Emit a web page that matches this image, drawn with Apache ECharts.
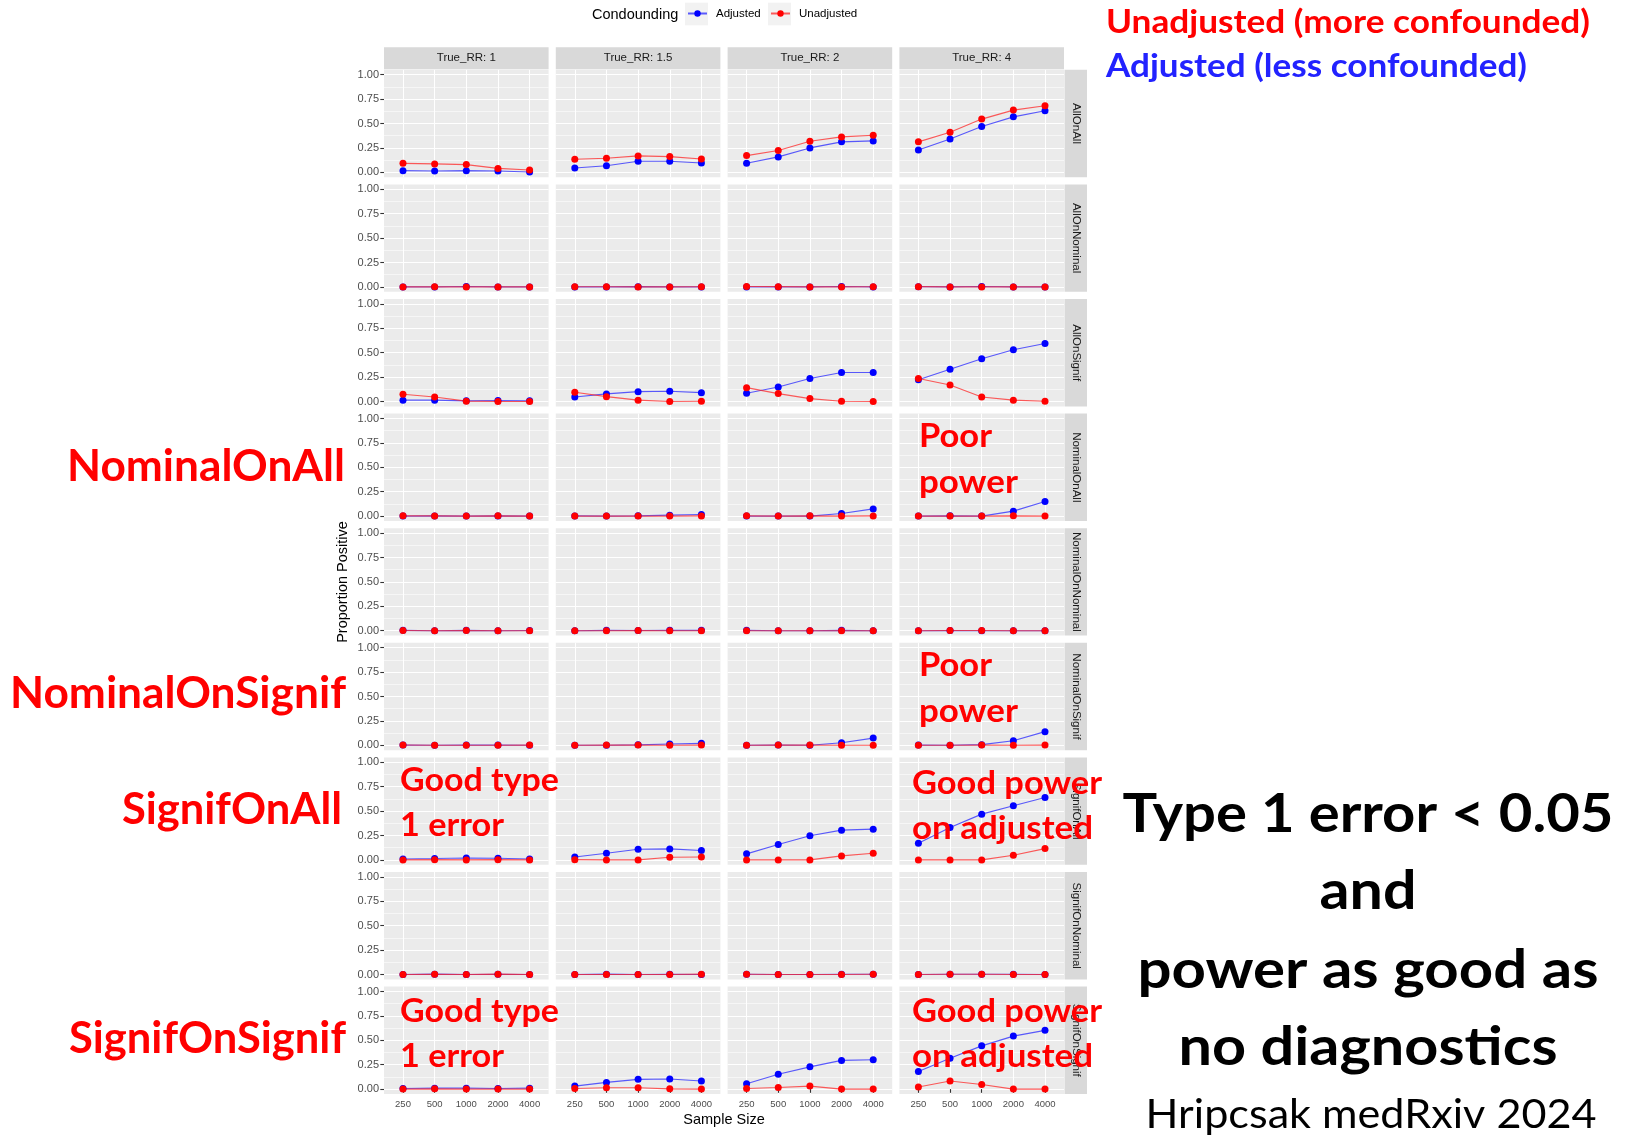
<!DOCTYPE html>
<html>
<head>
<meta charset="utf-8">
<script src="https://cdn.jsdelivr.net/npm/echarts@6/dist/echarts.min.js"></script>
<style>
  html, body { margin: 0; padding: 0; background: #ffffff; }
  #chart { width: 1633px; height: 1137px; }
</style>
</head>
<body>
<div id="chart"></div>
<script>
// ---- data -----------------------------------------------------------------
const sampleSizes = ['250', '500', '1000', '2000', '4000'];
const trueRR = ['1', '1.5', '2', '4'];
const methods = ['AllOnAll', 'AllOnNominal', 'AllOnSignif', 'NominalOnAll', 'NominalOnNominal',
                 'NominalOnSignif', 'SignifOnAll', 'SignifOnNominal', 'SignifOnSignif'];

// proportion positive, one inner list per True_RR (1, 1.5, 2, 4), values by sample size
const adjAllOnAll   = [[0.017, 0.014, 0.017, 0.014, 0.003], [0.045, 0.068, 0.113, 0.113, 0.096],
                       [0.092, 0.158, 0.250, 0.312, 0.322], [0.229, 0.342, 0.469, 0.568, 0.630]];
const unadjAllOnAll = [[0.092, 0.086, 0.079, 0.040, 0.024], [0.134, 0.144, 0.168, 0.161, 0.137],
                       [0.171, 0.223, 0.318, 0.363, 0.380], [0.312, 0.411, 0.545, 0.637, 0.681]];

const adjAllOnNominal   = [[0, 0, 0.004, 0, 0], [0, 0, 0.003, 0, 0], [0, 0, 0, 0.004, 0], [0.003, 0, 0.004, 0, 0]];
const unadjAllOnNominal = [[0, 0.002, 0, 0, 0], [0.002, 0.002, 0, 0, 0.002], [0.004, 0.003, 0, 0, 0.002], [0.003, 0, 0, 0, 0]];

const adjAllOnSignif   = [[0.014, 0.014, 0.007, 0.010, 0.007], [0.047, 0.078, 0.101, 0.105, 0.091],
                          [0.084, 0.149, 0.236, 0.297, 0.297], [0.223, 0.331, 0.439, 0.530, 0.595]];
const unadjAllOnSignif = [[0.074, 0.047, 0.004, 0, 0], [0.095, 0.050, 0.014, 0, 0.003],
                          [0.142, 0.081, 0.030, 0.003, 0], [0.236, 0.169, 0.047, 0.014, 0.003]];

const adjNominalOnAll   = [[0, 0.002, 0, 0.002, 0], [0.002, 0, 0.003, 0.010, 0.017],
                           [0, 0, 0, 0.027, 0.074], [0, 0.003, 0, 0.051, 0.149]];
const unadjNominalOnAll = [[0.003, 0.002, 0, 0.003, 0], [0, 0, 0, 0, 0.002], [0.003, 0, 0.003, 0, 0.002], [0, 0, 0, 0.003, 0]];

const adjNominalOnNominal   = [[0.004, 0, 0.004, 0, 0.003], [0, 0.004, 0.003, 0.004, 0.004], [0.004, 0, 0, 0.004, 0], [0, 0.002, 0, 0, 0]];
const unadjNominalOnNominal = [[0.003, 0, 0.003, 0, 0], [0, 0, 0.003, 0, 0], [0, 0, 0, 0, 0], [0, 0.003, 0.003, 0, 0]];

const adjNominalOnSignif   = [[0.002, 0, 0.004, 0.002, 0], [0, 0, 0.005, 0.013, 0.020],
                              [0, 0.002, 0, 0.027, 0.074], [0.002, 0, 0.007, 0.047, 0.140]];
const unadjNominalOnSignif = [[0.003, 0, 0, 0, 0.002], [0, 0.002, 0.002, 0, 0.002], [0, 0.002, 0.003, 0, 0], [0, 0, 0.002, 0, 0.002]];

const adjSignifOnAll   = [[0.010, 0.014, 0.020, 0.017, 0.010], [0.030, 0.068, 0.110, 0.113, 0.096],
                          [0.062, 0.158, 0.247, 0.305, 0.315], [0.171, 0.332, 0.469, 0.555, 0.640]];
const unadjSignifOnAll = [[0, 0.003, 0, 0.003, 0], [0.003, 0, 0, 0.027, 0.030],
                          [0, 0, 0, 0.041, 0.068], [0, 0, 0, 0.048, 0.116]];

const adjSignifOnNominal   = [[0, 0.004, 0, 0.003, 0], [0, 0.004, 0, 0.003, 0], [0.003, 0, 0, 0.003, 0.003], [0, 0.002, 0.002, 0.002, 0]];
const unadjSignifOnNominal = [[0, 0.002, 0, 0.004, 0], [0, 0, 0, 0, 0.004], [0.002, 0, 0, 0, 0.003], [0, 0.002, 0.002, 0, 0]];

const adjSignifOnSignif   = [[0.007, 0.010, 0.010, 0.007, 0.010], [0.031, 0.069, 0.100, 0.104, 0.083],
                             [0.055, 0.152, 0.228, 0.294, 0.301], [0.180, 0.315, 0.443, 0.543, 0.602]];
const unadjSignifOnSignif = [[0, 0.003, 0, 0, 0], [0.007, 0.014, 0.014, 0.003, 0],
                             [0.007, 0.017, 0.031, 0, 0], [0.021, 0.083, 0.048, 0, 0]];

const adjustedByMethod = [adjAllOnAll, adjAllOnNominal, adjAllOnSignif, adjNominalOnAll, adjNominalOnNominal,
                          adjNominalOnSignif, adjSignifOnAll, adjSignifOnNominal, adjSignifOnSignif];
const unadjustedByMethod = [unadjAllOnAll, unadjAllOnNominal, unadjAllOnSignif, unadjNominalOnAll, unadjNominalOnNominal,
                            unadjNominalOnSignif, unadjSignifOnAll, unadjSignifOnNominal, unadjSignifOnSignif];

const yTicks = [0, 0.25, 0.5, 0.75, 1];
const yMinorTicks = [0.125, 0.375, 0.625, 0.875];

// ---- layout ---------------------------------------------------------------
const panel = { left: 384, top: 69.8, w: 164.6, h: 107.4, dx: 171.8, dy: 114.6 };
const stripH = 22;
const stripW = 22.5;
const BASE = "'Liberation Sans', Arial, sans-serif";
const BIG = "Lato, 'Open Sans', sans-serif";

const grids = [], xAxes = [], yAxes = [], series = [], graphics = [];

methods.forEach((m, r) => {
  trueRR.forEach((rr, c) => {
    const gi = r * 4 + c;
    const gx = panel.left + c * panel.dx;
    const gy = panel.top + r * panel.dy;
    grids.push({ left: gx, top: gy, width: panel.w, height: panel.h, show: true,
                 backgroundColor: '#EBEBEB', borderWidth: 0, containLabel: false });
    xAxes.push({
      gridIndex: gi, type: 'value', min: 0.4, max: 5.6,
      axisLine: { show: false },
      axisTick: { show: r === methods.length - 1, customValues: [1, 2, 3, 4, 5], length: 3.7,
                  lineStyle: { color: '#333333', width: 1.1 } },
      axisLabel: { show: r === methods.length - 1, customValues: [1, 2, 3, 4, 5],
                   formatter: v => sampleSizes[Math.round(v) - 1], fontSize: 9.5, color: '#4D4D4D',
                   fontFamily: BASE, margin: 5 },
      splitLine: { show: true, lineStyle: { color: '#FFFFFF', width: 1.1 } }
    });
    yAxes.push({
      gridIndex: gi, type: 'value', min: -0.05, max: 1.05, position: 'left',
      axisLine: { show: false },
      axisTick: { show: c === 0, customValues: yTicks, length: 3.7, lineStyle: { color: '#333333', width: 1.1 } },
      axisLabel: { show: c === 0, customValues: yTicks, formatter: v => v.toFixed(2), fontSize: 11,
                   color: '#4D4D4D', fontFamily: BASE, margin: 5 },
      splitLine: { show: true, lineStyle: { color: '#FFFFFF', width: 1.1 } }
    });
    yAxes.push({
      gridIndex: gi, type: 'value', min: -0.05, max: 1.05, position: 'right',
      axisLine: { show: false },
      axisTick: { show: false, customValues: yMinorTicks },
      axisLabel: { show: false, customValues: yMinorTicks },
      splitLine: { show: true, lineStyle: { color: '#FFFFFF', width: 0.55 } }
    });
    const mk = (name, vals, pt, ln) => ({
      name, type: 'line', xAxisIndex: gi, yAxisIndex: gi * 2,
      data: vals.map((v, k) => [k + 1, v]),
      symbol: 'circle', symbolSize: 7, showSymbol: true,
      itemStyle: { color: pt }, lineStyle: { color: ln, width: 1.1 },
      emphasis: { disabled: true }, silent: true, animation: false, z: 3
    });
    series.push(mk('Adjusted', adjustedByMethod[r][c], '#0000FF', 'rgba(30,30,255,0.72)'));
    series.push(mk('Unadjusted', unadjustedByMethod[r][c], '#FF0000', 'rgba(255,30,30,0.72)'));

    // facet strips
    if (r === 0) {
      graphics.push({ type: 'rect', shape: { x: gx, y: panel.top - stripH - 0.5, width: panel.w, height: stripH },
                      style: { fill: '#D9D9D9' }, z: 1 });
      graphics.push({ type: 'text', x: gx + panel.w / 2, y: panel.top - stripH / 2 - 0.5,
                      style: { text: 'True_RR: ' + rr, fontSize: 11.5, fontFamily: BASE, fill: '#1A1A1A',
                               align: 'center', verticalAlign: 'middle' }, z: 2 });
    }
    if (c === trueRR.length - 1) {
      const sx = gx + panel.w + 0.5;
      graphics.push({ type: 'rect', shape: { x: sx, y: gy, width: stripW, height: panel.h },
                      style: { fill: '#D9D9D9' }, z: 1 });
      graphics.push({ type: 'text', x: sx + stripW / 2, y: gy + panel.h / 2, rotation: -Math.PI / 2,
                      style: { text: m, fontSize: 11.5, fontFamily: BASE, fill: '#1A1A1A',
                               align: 'center', verticalAlign: 'middle' }, z: 2 });
    }
  });
});

// axis titles and legend title
graphics.push({ type: 'text', x: 343, y: 582, rotation: Math.PI / 2,
                style: { text: 'Proportion Positive', fontSize: 14.5, fontFamily: BASE, fill: '#000000',
                         align: 'center', verticalAlign: 'middle' } });
graphics.push({ type: 'text', x: panel.left + (3 * panel.dx + panel.w) / 2, y: 1120,
                style: { text: 'Sample Size', fontSize: 14.5, fontFamily: BASE, fill: '#000000',
                         align: 'center', verticalAlign: 'middle' } });
graphics.push({ type: 'text', x: 592, y: 14.5,
                style: { text: 'Condounding', fontSize: 14.5, fontFamily: BASE, fill: '#000000',
                         align: 'left', verticalAlign: 'middle' } });
[685, 768].forEach(x => graphics.push({ type: 'rect', shape: { x: x, y: 2.7, width: 23, height: 22.6 },
                                         style: { fill: '#F2F2F2' }, z: 0 }));

// overlaid notes, each line squeezed to its width
const measureCtx = document.createElement('canvas').getContext('2d');
function note(text, x, y, width, size, color, align, weight) {
  const w = weight || 'bold';
  measureCtx.font = w + ' ' + size + 'px Lato';
  const natural = measureCtx.measureText(text).width;
  graphics.push({ type: 'text', x: x, y: y, scaleX: width / natural, z: 50,
                  style: { text: text, fontSize: size, fontWeight: w, fontFamily: BIG, fill: color,
                           align: align, verticalAlign: 'middle' } });
}
const RED = '#FF0000', BLUE = '#2222FF', BLACK = '#000000';
note('Unadjusted (more confounded)', 1106, 22, 484, 33, RED, 'left');
note('Adjusted (less confounded)', 1106, 66, 421, 33, BLUE, 'left');
note('NominalOnAll', 345, 467, 278, 43, RED, 'right');
note('NominalOnSignif', 346, 694, 336, 43, RED, 'right');
note('SignifOnAll', 342, 810, 220, 43, RED, 'right');
note('SignifOnSignif', 346, 1039, 277, 43, RED, 'right');
note('Poor', 919, 436, 73, 33, RED, 'left');
note('power', 919, 482, 99, 33, RED, 'left');
note('Poor', 919, 665, 73, 33, RED, 'left');
note('power', 919, 711, 99, 33, RED, 'left');
note('Good type', 400, 780, 159, 33, RED, 'left');
note('1 error', 400, 825, 104, 33, RED, 'left');
note('Good power', 912, 783, 190, 33, RED, 'left');
note('on adjusted', 912, 828, 181, 33, RED, 'left');
note('Good type', 400, 1011, 159, 33, RED, 'left');
note('1 error', 400, 1056, 104, 33, RED, 'left');
note('Good power', 912, 1011, 190, 33, RED, 'left');
note('on adjusted', 912, 1056, 181, 33, RED, 'left');
note('Type 1 error < 0.05', 1368, 815, 491, 53, BLACK, 'center');
note('and', 1368, 892, 97, 53, BLACK, 'center');
note('power as good as', 1368, 971, 461, 53, BLACK, 'center');
note('no diagnostics', 1368, 1048, 379, 53, BLACK, 'center');
note('Hripcsak medRxiv 2024', 1371, 1115, 451, 41, BLACK, 'center', 'normal');

const legendCommon = {
  top: 7.5, padding: 0, itemWidth: 19, itemHeight: 8, itemGap: 0, selectedMode: false,
  textStyle: { fontSize: 11.5, fontFamily: BASE, color: '#000000', padding: [0, 0, 0, 4] }
};

const chart = echarts.init(document.getElementById('chart'), null, { renderer: 'canvas' });
chart.setOption({
  backgroundColor: '#FFFFFF',
  animation: false,
  legend: [
    Object.assign({ data: ['Adjusted'], left: 687 }, legendCommon),
    Object.assign({ data: ['Unadjusted'], left: 770 }, legendCommon)
  ],
  grid: grids,
  xAxis: xAxes,
  yAxis: yAxes,
  series: series,
  graphic: graphics
});
</script>
</body>
</html>
